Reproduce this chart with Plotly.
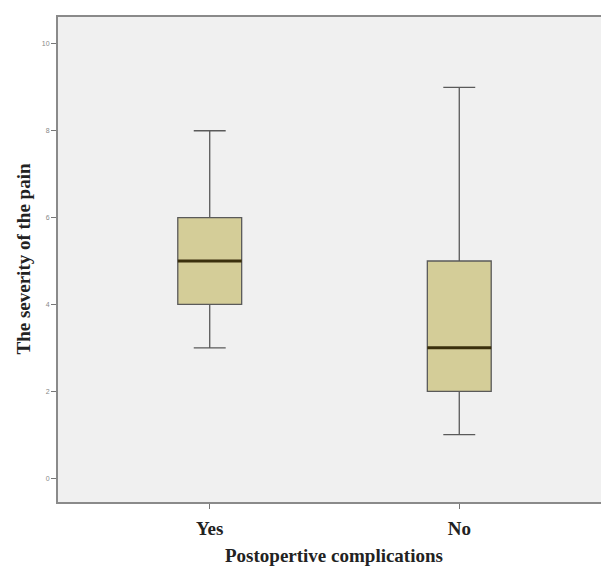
import plotly.graph_objects as go

categories = ["Yes", "No"]
positions = [0, 1]
q1 = [4, 2]
median = [5, 3]
q3 = [6, 5]
lower = [3, 1]
upper = [8, 9]
box_w = 0.256
x_title = "Postopertive complications"
y_title = "The severity of the pain"

fig = go.Figure()
fig.add_trace(go.Box(
    x=positions, q1=q1, median=median, q3=q3,
    lowerfence=lower, upperfence=upper,
    width=box_w, whiskerwidth=0.5,
    fillcolor="#D4CD98",
    line=dict(color="#5a5a5a", width=1.3),
    boxpoints=False, hoverinfo="skip", showlegend=False,
))
# thick median lines
mx, my = [], []
for p, m in zip(positions, median):
    mx += [p - box_w / 2, p + box_w / 2, None]
    my += [m, m, None]
fig.add_trace(go.Scatter(x=mx, y=my, mode="lines",
                         line=dict(color="#3a2f0c", width=3),
                         hoverinfo="skip", showlegend=False))

title_font = dict(family="Liberation Serif", size=19, color="#222")
fig.update_layout(
    width=601, height=559,
    margin=dict(l=50, r=0, t=9, b=65),
    paper_bgcolor="white", plot_bgcolor="#F0F0F0",
    font=dict(family="Liberation Serif", color="black"),
    xaxis=dict(
        range=[-0.608, 1.6], tickvals=positions,
        ticktext=["<b>%s</b>" % c for c in categories],
        showgrid=False, zeroline=False,
        showline=True, linecolor="#8a8a8a", linewidth=2, mirror=True,
        ticks="outside", ticklen=5, tickcolor="#777",
        ticklabelstandoff=3,
        tickfont=title_font,
    ),
    yaxis=dict(
        range=[-0.55, 10.62], tickvals=[0, 2, 4, 6, 8, 10],
        showgrid=False, zeroline=False,
        showline=True, linecolor="#8a8a8a", linewidth=2,
        ticks="outside", ticklen=5, tickcolor="#777",
        tickfont=dict(family="Liberation Sans", size=7, color="#888"),
    ),
    annotations=[
        dict(text="<b>%s</b>" % x_title, xref="paper", yref="paper",
             x=0.5, y=-0.111, xanchor="center", yanchor="middle",
             showarrow=False, font=title_font),
        dict(text="<b>%s</b>" % y_title, xref="paper", yref="paper",
             x=-0.0635, y=0.5, xanchor="center", yanchor="middle",
             textangle=-90, showarrow=False, font=title_font),
    ],
)
fig.write_html("out.html")
